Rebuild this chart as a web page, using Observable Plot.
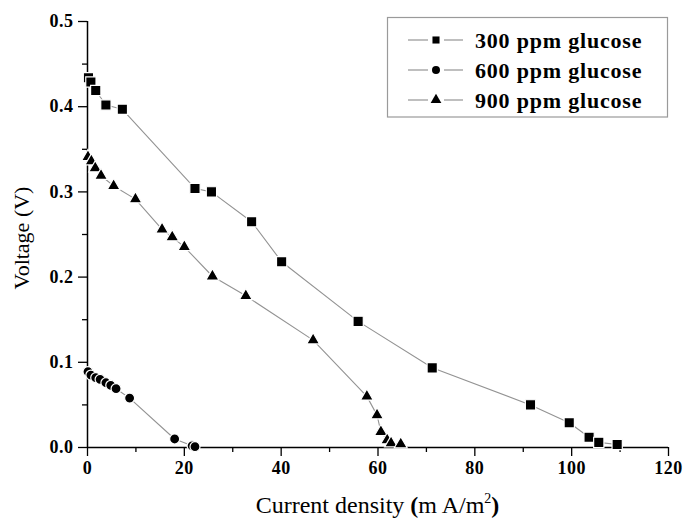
<!DOCTYPE html>
<html>
<head>
<meta charset="utf-8">
<script src="https://cdn.jsdelivr.net/npm/d3@7"></script>
<script src="https://cdn.jsdelivr.net/npm/@observablehq/plot@0.6"></script>
<style>
  html, body { margin: 0; padding: 0; background: #fff; }
  #chart { position: relative; width: 684px; height: 522px; }
</style>
</head>
<body>
<div id="chart"></div>
<script>
// ---- data ----
const seriesNames = ["300 ppm glucose", "600 ppm glucose", "900 ppm glucose"];
const seriesSymbols = ["square", "circle", "triangle"];

const current300 = [0.2, 0.7, 1.7, 3.8, 7.2, 22.2, 25.6, 33.9, 40.1, 55.9, 71.2, 91.5, 99.5, 103.6, 105.6, 109.4];
const voltage300 = [0.434, 0.429, 0.419, 0.402, 0.397, 0.304, 0.300, 0.265, 0.218, 0.148, 0.0935, 0.050, 0.029, 0.012, 0.006, 0.0035];

const current600 = [0.1, 0.7, 1.7, 2.6, 3.8, 4.8, 5.9, 8.7, 18.0, 21.6, 22.2];
const voltage600 = [0.089, 0.085, 0.082, 0.080, 0.076, 0.073, 0.069, 0.058, 0.010, 0.002, 0.001];

const current900 = [0.1, 0.8, 1.6, 2.8, 5.4, 9.9, 15.4, 17.5, 20.0, 25.8, 32.7, 46.6, 57.7, 59.8, 60.6, 61.9, 62.7, 64.7];
const voltage900 = [0.341, 0.336, 0.328, 0.319, 0.307, 0.2915, 0.256, 0.247, 0.2355, 0.201, 0.178, 0.126, 0.060, 0.038, 0.0184, 0.0087, 0.005, 0.004];

const xMajorTicks = [0, 20, 40, 60, 80, 100, 120];
const xMinorTicks = [10, 30, 50, 70, 90, 110];
const yMajorTicks = [0.0, 0.1, 0.2, 0.3, 0.4, 0.5];
const yMinorTicks = [0.05, 0.15, 0.25, 0.35, 0.45];

const xTitle = "Current density";
const yTitle = "Voltage (V)";

// ---- build table ----
const pairs = [[current300, voltage300], [current600, voltage600], [current900, voltage900]];
const rows = [];
pairs.forEach(([xs, ys], i) => xs.forEach((x, j) => rows.push({series: seriesNames[i], symbol: seriesSymbols[i], x, y: ys[j]})));

const serif = "Liberation Serif";
const W = 684, H = 522;
const mL = 87, mR = 16, mT = 21, mB = 75;

const dotSize = {"300 ppm glucose": 5.8, "600 ppm glucose": 5.0, "900 ppm glucose": 4.8};

const plot = Plot.plot({
  width: W,
  height: H,
  marginLeft: mL,
  marginRight: mR,
  marginTop: mT,
  marginBottom: mB,
  style: {background: "#fff", color: "#000"},
  x: {domain: [0, 120], label: null},
  y: {domain: [0, 0.5], label: null},
  symbol: {domain: seriesNames, range: seriesSymbols},
  marks: [
    Plot.axisX({ticks: xMinorTicks, tickSize: 5, tickFormat: () => "", strokeWidth: 1.3}),
    Plot.axisX({ticks: xMajorTicks, tickSize: 9, tickPadding: 5, tickFormat: d => String(d), strokeWidth: 1.3}),
    Plot.axisY({ticks: yMinorTicks, tickSize: 5, tickFormat: () => "", strokeWidth: 1.3}),
    Plot.axisY({ticks: yMajorTicks, tickSize: 9, tickPadding: 5, tickFormat: d => d.toFixed(1), strokeWidth: 1.3}),
    Plot.ruleY([0], {stroke: "#000", strokeWidth: 1.5}),
    Plot.ruleX([0], {stroke: "#000", strokeWidth: 1.5}),
    Plot.line(rows, {x: "x", y: "y", z: "series", stroke: "#939393", strokeWidth: 1.1}),
    ...seriesNames.map(s => Plot.dot(rows.filter(d => d.series === s), {
      x: "x", y: "y", symbol: "symbol", r: dotSize[s], fill: "#000", stroke: "#fff", strokeWidth: 1.2
    }))
  ]
});

document.getElementById("chart").appendChild(plot);

const svg = d3.select(plot);
// tick label font (Times-like bold)
svg.selectAll("text")
  .style("font-family", serif)
  .style("font-size", "18px")
  .style("font-weight", "bold")
  .style("letter-spacing", "0.5px");

// ---- axis titles and legend ----
const plotCx = mL + (W - mL - mR) / 2;

const xt = svg.append("text")
  .attr("x", plotCx).attr("y", 513)
  .attr("text-anchor", "middle")
  .style("font-family", serif).style("font-size", "24px").style("font-weight", "normal").attr("fill", "#000");
xt.append("tspan").text(xTitle + " ");
xt.append("tspan").style("font-weight", "bold").text("(");
xt.append("tspan").text("m A/m");
xt.append("tspan").style("font-size", "14px").attr("dy", -10).text("2");
xt.append("tspan").attr("dy", 10).style("font-weight", "bold").text(")");

svg.append("text")
  .attr("transform", `translate(29, 238) rotate(-90)`)
  .attr("text-anchor", "middle")
  .style("font-family", serif).style("font-size", "22px").style("font-weight", "normal").attr("fill", "#000")
  .text(yTitle);

// legend
const lg = svg.append("g");
lg.append("rect")
  .attr("x", 387.5).attr("y", 17.5).attr("width", 280).attr("height", 99.5)
  .attr("fill", "#fff").attr("stroke", "#9a9a9a").attr("stroke-width", 1.2);
const legendSym = {square: d3.symbolSquare, circle: d3.symbolCircle, triangle: d3.symbolTriangle};
seriesNames.forEach((name, i) => {
  const cy = 40 + i * 30;
  lg.append("line").attr("x1", 408).attr("x2", 428).attr("y1", cy).attr("y2", cy).attr("stroke", "#8a8a8a").attr("stroke-width", 1.1);
  lg.append("line").attr("x1", 444).attr("x2", 463).attr("y1", cy).attr("y2", cy).attr("stroke", "#8a8a8a").attr("stroke-width", 1.1);
  lg.append("path")
    .attr("d", d3.symbol(legendSym[seriesSymbols[i]], 50)())
    .attr("transform", `translate(436, ${cy})`)
    .attr("fill", "#000");
  lg.append("text")
    .attr("x", 475).attr("y", cy).attr("dy", "0.35em")
    .attr("text-anchor", "start")
    .attr("letter-spacing", 0.8)
    .style("font-family", serif).style("font-size", "22px").style("font-weight", "bold").attr("fill", "#000")
    .text(name);
});
</script>
</body>
</html>
